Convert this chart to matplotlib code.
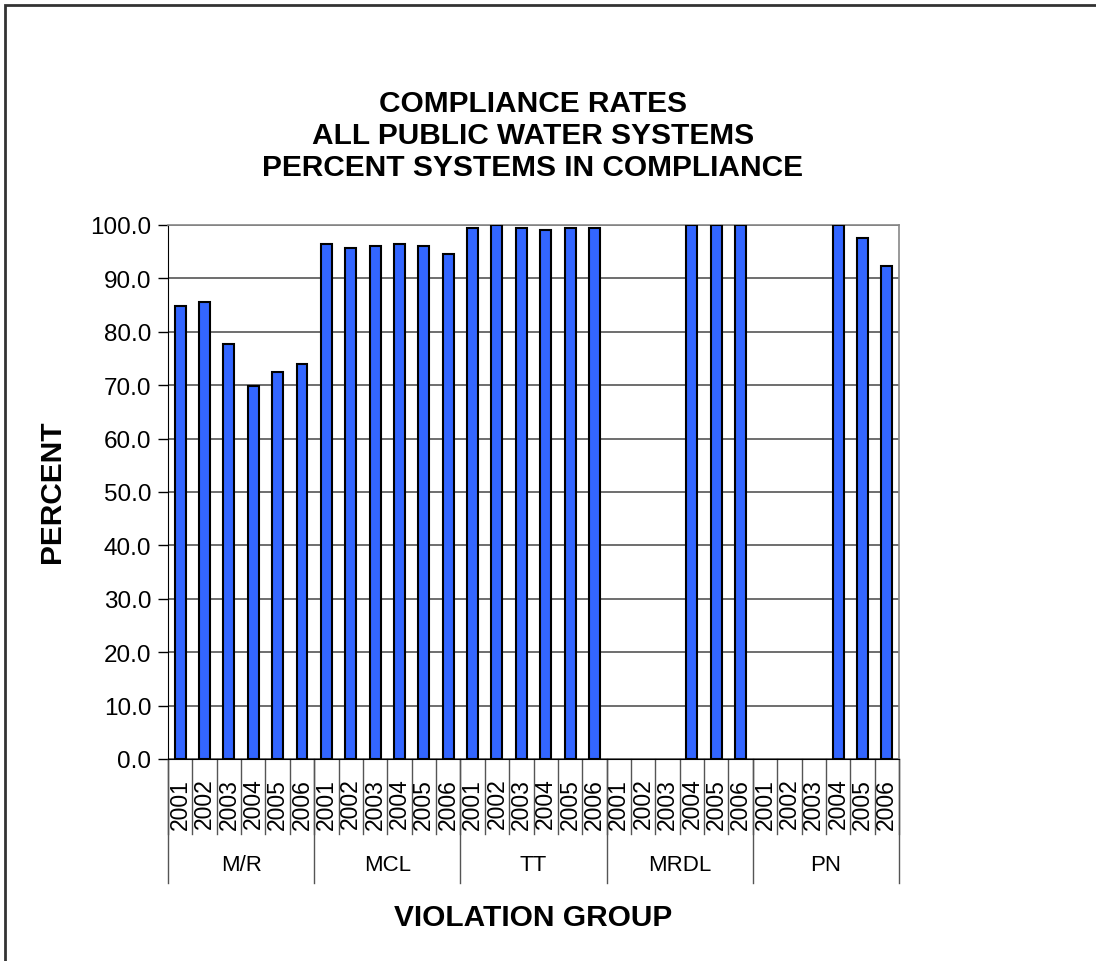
import numpy as np
import matplotlib
matplotlib.use("Agg")
import matplotlib.pyplot as plt
from matplotlib.patches import Rectangle

plt.rcParams['font.family'] = ['Liberation Sans', 'DejaVu Sans']

# values (percent of systems in compliance)
groups = ["M/R", "MCL", "TT", "MRDL", "PN"]
years = ["2001", "2002", "2003", "2004", "2005", "2006"]
mr = [84.9, 85.6, 77.8, 69.9, 72.5, 74.0]
mcl = [96.5, 95.7, 96.1, 96.5, 96.1, 94.6]
tt = [99.5, 100.0, 99.5, 99.1, 99.5, 99.5]
mrdl = [np.nan, np.nan, np.nan, 100.0, 100.0, 100.0]
pn = [np.nan, np.nan, np.nan, 100.0, 97.6, 92.4]
title_lines = ["COMPLIANCE RATES", "ALL PUBLIC WATER SYSTEMS", "PERCENT SYSTEMS IN COMPLIANCE"]

values = mr + mcl + tt + mrdl + pn
labels = years * len(groups)
x = np.arange(len(values))

W, H = 1096, 962
fig = plt.figure(figsize=(W / 100, H / 100), dpi=100)
ax = fig.add_axes([168/W, 1 - 760/H, 731/W, 534/H])

ax.bar(x, values, width=0.45, color="#3366FF", edgecolor="black", linewidth=1.5, zorder=3)

ax.set_xlim(-0.5, len(values) - 0.5)
ax.set_ylim(0, 100)
ax.set_yticks(np.arange(0, 101, 10))
ax.set_yticklabels(["%.1f" % v for v in np.arange(0, 101, 10)], fontsize=17.5)
ax.yaxis.grid(True, color="#555555", linewidth=1.2, zorder=0)
ax.tick_params(axis="y", direction="out", length=7, width=1, pad=5)
ax.set_xticks([])

for side in ["top", "right"]:
    ax.spines[side].set_color("#888888")
    ax.spines[side].set_linewidth(1.2)
ax.spines["left"].set_color("black")
ax.spines["bottom"].set_color("black")

# category axis: year labels and separators
trans = ax.get_xaxis_transform()
for i, lab in enumerate(labels):
    ax.text(x[i], -0.035, lab, rotation=90, ha="center", va="top", fontsize=16.5,
            transform=trans, clip_on=False)
for b in np.arange(-0.5, len(values), 1.0):
    ax.plot([b, b], [0, -0.141], color="#555555", linewidth=1, transform=trans, clip_on=False)
for g, name in enumerate(groups):
    left = g * len(years) - 0.5
    ax.plot([left, left], [0, -0.232], color="#555555", linewidth=1, transform=trans, clip_on=False)
    ax.text(left + len(years) / 2, -0.198, name, ha="center", va="center", fontsize=16,
            transform=trans)
end = len(values) - 0.5
ax.plot([end, end], [0, -0.232], color="#555555", linewidth=1, transform=trans, clip_on=False)

fig.text(52/W, 1 - 492/H, "PERCENT", rotation=90, ha="center", va="center",
         fontsize=21.5, fontweight="bold")
fig.text(533/W, 1 - 918/H, "VIOLATION GROUP", ha="center", va="center",
         fontsize=21.5, fontweight="bold")
for k, line in enumerate(title_lines):
    fig.text(533/W, 1 - (104 + 32 * k)/H, line, ha="center", va="center",
             fontsize=21.5, fontweight="bold")

# outer chart border (only left and top edges fall inside the image)
fig.patches.append(Rectangle((5/W, -0.1), 1.2, 1 - 6/H + 0.1, transform=fig.transFigure,
                             fill=False, edgecolor="#333333", linewidth=2))

fig.savefig("out.png", dpi=100)
